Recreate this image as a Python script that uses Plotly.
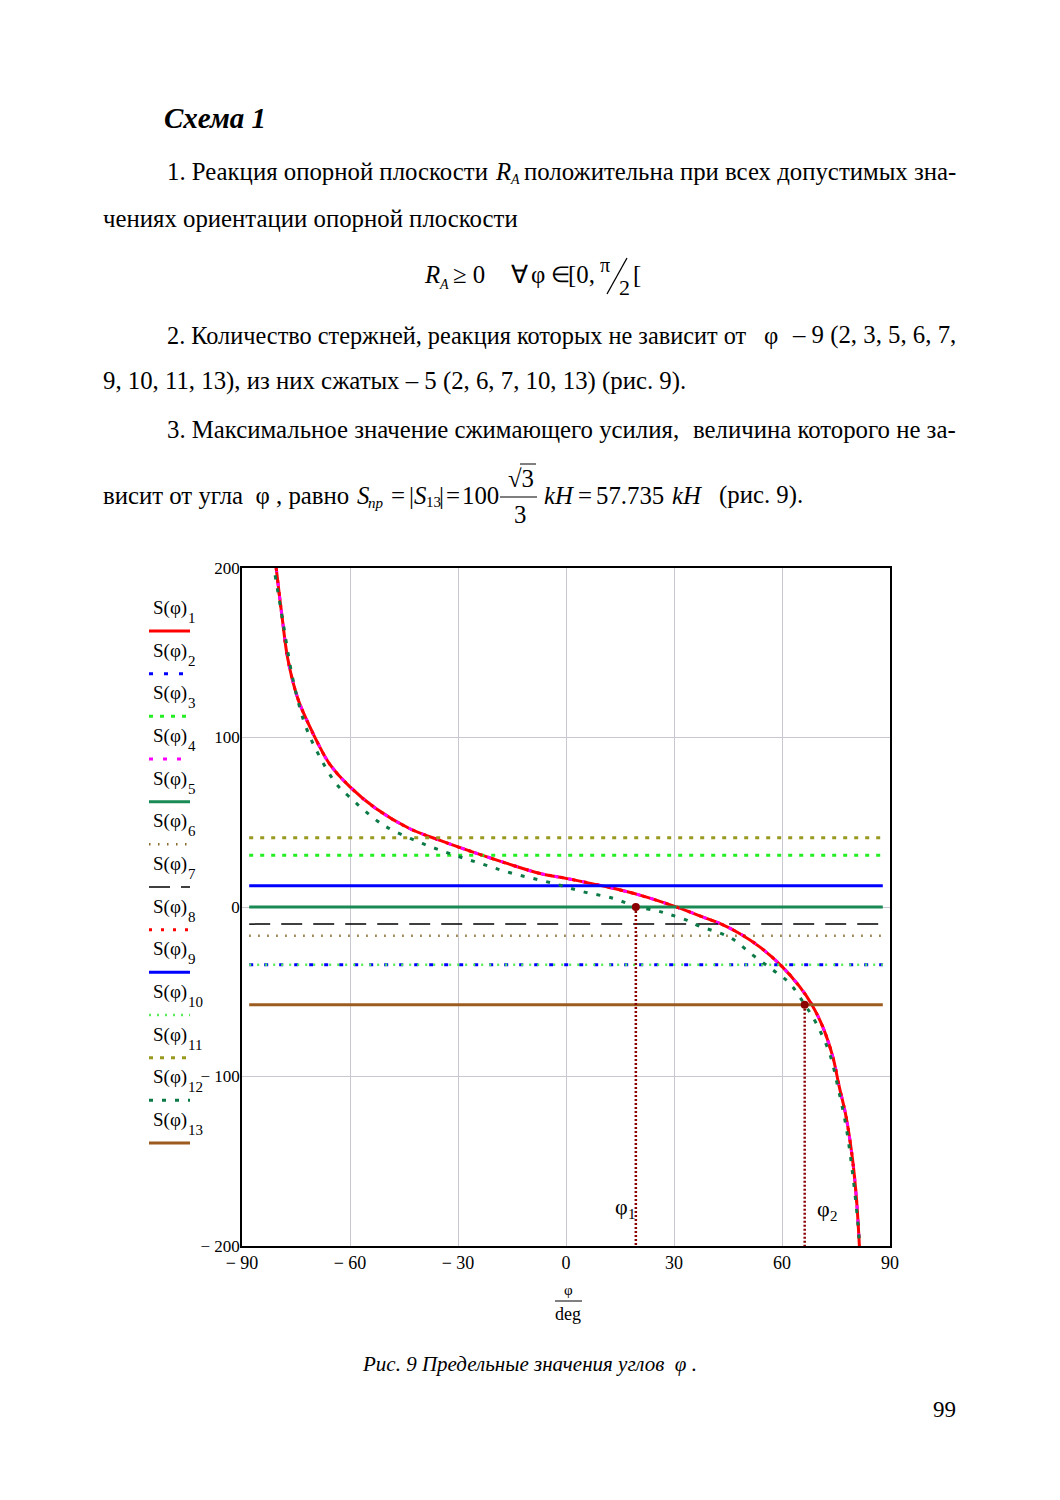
import plotly.graph_objects as go

# ---------------- data ----------------
# curve shared by S1, S4, S8 (they coincide)
phi_a = [-80.5, -78.8, -77.3, -74.5, -71.2, -68.9, -65.7, -60.0, -52.8, -43.5,
         -34.6, -26.0, -16.4, -7.2, 0.0, 11.3, 20.5, 30.0, 39.0, 42.7,
         48.2, 53.8, 60.1, 64.9, 68.1, 71.3, 74.1, 75.9, 77.8, 79.6, 80.7, 81.5]
S_a = [200.0, 170.0, 146.6, 123.0, 106.5, 96.5, 84.5, 70.9, 58.1, 46.3,
       39.0, 32.5, 25.7, 19.8, 16.9, 11.9, 7.0, 0.5, -6.7, -9.7,
       -15.6, -23.5, -35.3, -47.0, -56.9, -70.6, -88.3, -106.0, -123.7, -149.0, -172.7, -200.0]

# curve S12
phi_12 = [-80.8, -78.6, -75.9, -72.6, -68.9, -63.9, -60.2, -52.3, -48.2, -39.9,
          -32.0, -23.8, -15.5, -3.5, 4.8, 13.1, 19.4, 25.2, 28.8, 33.5, 37.1,
          45.5, 51.9, 57.5, 62.1, 66.2, 69.5, 73.2, 75.5, 77.8, 79.6, 81.0, 81.5]
S_12 = [195.7, 168.0, 134.8, 108.3, 90.6, 72.9, 65.0, 50.6, 45.3, 37.5,
        31.3, 25.7, 20.2, 13.9, 9.0, 5.1, 0.3, -2.2, -4.4, -7.7, -11.3,
        -17.9, -28.4, -37.2, -45.0, -57.2, -68.6, -86.3, -106.0, -129.6, -157.0, -184.6, -198.0]

# members whose force does not depend on phi
const_ids = [2, 3, 5, 6, 7, 9, 10, 11, 13]
const_vals = [-34.1, 30.6, 0.0, -17.0, -10.1, 12.5, -34.1, 40.8, -57.735]
phi_span = [-88, 88]

# limit angles
phi_lim = [19.4, 66.3]
S_lim = [0.0, -57.735]
lim_names = ["φ", "φ"]
lim_subs = ["1", "2"]

x_ticks = [-90, -60, -30, 0, 30, 60, 90]
x_ticktext = ["− 90", "− 60", "− 30", "0", "30", "60", "90"]
y_ticks = [-200, -100, 0, 100, 200]
y_ticktext = ["− 200", "− 100", "0", "100", "200"]

# ---------------- styles ----------------
styles = {
    1: dict(color="#ff0000", width=3, dash="solid"),
    2: dict(color="#0000ff", width=3, dash="4px,11px"),
    3: dict(color="#22ee22", width=3, dash="4px,7px"),
    4: dict(color="#ff00ff", width=3, dash="4px,10px"),
    5: dict(color="#1a8a55", width=3, dash="solid"),
    6: dict(color="#8b6b2e", width=2.5, dash="1.5px,7.5px"),
    7: dict(color="#000000", width=1.5, dash="21px,11px"),
    8: dict(color="#ff0000", width=3, dash="3px,9px"),
    9: dict(color="#0000ff", width=3, dash="solid"),
    10: dict(color="#55ee55", width=2.5, dash="2px,6px"),
    11: dict(color="#99991f", width=3, dash="4px,7px"),
    12: dict(color="#0b7a46", width=3, dash="4px,9px"),
    13: dict(color="#9c5b1f", width=3, dash="solid"),
}

# page coordinates of the plot frame (browser body has an 8px margin)
OFF = 8
PL, PR, PT, PB = 242, 890, 568, 1246
W, H = 1060 - OFF, 1500 - OFF


def px(x):
    return (x - PL) / (PR - PL)


def py(y):
    return (PB - y) / (PB - PT)


fig = go.Figure()
const_map = dict(zip(const_ids, const_vals))
for i in range(1, 14):
    st = styles[i]
    if i in (1, 4, 8):
        xs, ys = phi_a, S_a
    elif i == 12:
        xs, ys = phi_12, S_12
    else:
        xs, ys = phi_span, [const_map[i], const_map[i]]
    fig.add_trace(go.Scatter(x=xs, y=ys, mode="lines", line_shape="spline",
                             line=dict(color=st["color"], width=st["width"], dash=st["dash"]),
                             showlegend=False, hoverinfo="skip"))

for p, s in zip(phi_lim, S_lim):
    fig.add_trace(go.Scatter(x=[p, p], y=[s, -200], mode="lines",
                             line=dict(color="#8b0000", width=2.5, dash="2px,2px"),
                             showlegend=False, hoverinfo="skip"))
fig.add_trace(go.Scatter(x=phi_lim, y=S_lim, mode="markers",
                         marker=dict(color="#8b0000", size=8),
                         showlegend=False, hoverinfo="skip"))

SERIF = "Liberation Serif"
FS = 24.8
ann = []
shapes = []


def text(x, y, t, size=FS, anchor="left", italic=False):
    ann.append(dict(x=px(x), y=py(y), xref="paper", yref="paper", text=t,
                    showarrow=False, xanchor=anchor, yanchor="middle",
                    font=dict(family=SERIF, size=size, color="black",
                              style="italic" if italic else "normal")))


def hline(x0, x1, y, w=1.2):
    shapes.append(dict(type="line", xref="paper", yref="paper", x0=px(x0), x1=px(x1),
                       y0=py(y), y1=py(y), line=dict(color="black", width=w)))


# phi1 / phi2 labels inside the plot
text(613, 1206, lim_names[0], size=22)
text(626, 1214, lim_subs[0], size=15)
text(815, 1208, lim_names[1], size=22)
text(828, 1216, lim_subs[1], size=15)

# manual legend
for i in range(1, 14):
    ly = 631 + (i - 1) * 42.67
    text(151, ly - 23, "S(φ)", size=19)
    text(186, ly - 13, str(i), size=15)
    st = styles[i]
    shapes.append(dict(type="line", xref="paper", yref="paper",
                       x0=px(149), x1=px(190), y0=py(ly), y1=py(ly),
                       line=dict(color=st["color"], width=st["width"], dash=st["dash"])))

# x-axis label as fraction phi/deg
text(568, 1290, "φ", size=15, anchor="center")
hline(555, 582, 1301, 1)
text(568, 1314, "deg", size=18, anchor="center")

# page text
text(162, 118, "<b><i>Схема 1</i></b>", size=29)
# paragraph 1
text(165, 171, "1. Реакция опорной плоскости")
text(493, 171, "R", italic=True)
text(508, 180, "A", size=14, italic=True)
text(958, 171, "положительна при всех допустимых зна-", anchor="right")
text(101, 219, "чениях ориентации опорной плоскости")
# formula R_A >= 0 for all phi in [0, pi/2[
text(422, 275, "R", italic=True)
text(437, 284, "A", size=14, italic=True)
text(451, 275, "≥ 0")
text(509, 275, "∀")
text(529, 275, "φ")
text(549, 275, "∈", size=22)
text(566, 275, "[0,")
text(598, 265, "π", size=20)
shapes.append(dict(type="line", xref="paper", yref="paper", x0=px(607), x1=px(627),
                   y0=py(294), y1=py(258), line=dict(color="black", width=1.3)))
text(617, 287, "2", size=22)
text(631, 275, "[")
# paragraph 2
text(165, 335, "2. Количество стержней, реакция которых не зависит от", size=24.3)
text(762, 335, "φ")
text(958, 335, "– 9 (2, 3, 5, 6, 7,", anchor="right")
text(101, 381, "9, 10, 11, 13), из них сжатых – 5 (2, 6, 7, 10, 13) (рис. 9).")
# paragraph 3
text(165, 430, "3. Максимальное значение сжимающего усилия,")
text(958, 430, "величина которого не за-", anchor="right")
text(101, 495, "висит от угла  φ , равно")
text(355, 495, "S", italic=True)
text(366, 503, "пр", size=15, italic=True)
text(389, 495, "=")
text(407, 495, "|")
text(412, 495, "S", italic=True)
text(424, 502, "13", size=15)
text(437, 495, "|")
text(444, 495, "=")
text(460, 495, "100")
text(506, 478, "√3")
hline(520, 536, 464, 1)
hline(500, 537, 497, 1.2)
text(520, 514, "3", anchor="center")
text(542, 495, "kH", italic=True)
text(576, 495, "=")
text(594, 495, "57.735")
text(670, 495, "kH", italic=True)
text(717, 495, "(рис. 9).")
text(360, 1364, "Рис. 9 Предельные значения углов  φ .", size=21, italic=True)
text(958, 1409, "99", size=23, anchor="right")

fig.update_layout(
    width=W, height=H, autosize=False,
    margin=dict(l=PL - OFF, r=W - (PR - OFF), t=PT - OFF, b=H - (PB - OFF), pad=0),
    paper_bgcolor="white", plot_bgcolor="white",
    annotations=ann, shapes=shapes, showlegend=False,
)
fig.update_xaxes(range=[-90, 90], tickvals=x_ticks, ticktext=x_ticktext,
                 showgrid=True, gridcolor="#c8c8d2", gridwidth=1, zeroline=False,
                 showline=True, mirror=True, linecolor="black", linewidth=1.5,
                 ticks="", tickfont=dict(family=SERIF, size=18, color="black"))
fig.update_yaxes(range=[-200, 200], tickvals=y_ticks, ticktext=y_ticktext,
                 showgrid=True, gridcolor="#c8c8d2", gridwidth=1, zeroline=False,
                 showline=True, mirror=True, linecolor="black", linewidth=1.5,
                 ticks="", ticklabelstandoff=-3,
                 tickfont=dict(family=SERIF, size=17, color="black"))

fig.write_html("out.html")
